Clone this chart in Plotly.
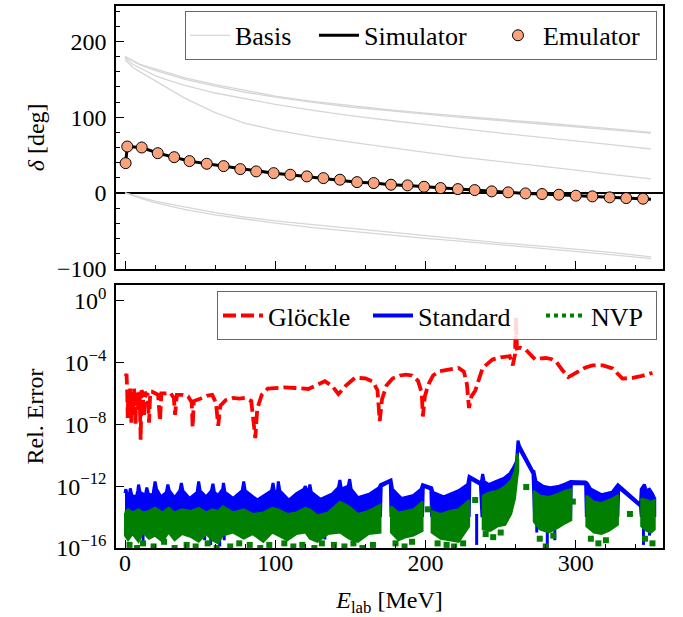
import plotly.graph_objects as go

# ---------------- top panel data ----------------
basis_E = [0, 5, 10, 20, 30, 40, 60, 80, 100, 125, 150, 175, 200, 225, 250, 275, 300, 325, 350]
basis_a1 = [180, 175, 170, 164, 158, 152, 143, 135, 128, 121, 115, 110, 105.5, 101, 97, 93, 89, 84.5, 80]
basis_a2 = [180, 174, 169, 162, 156, 150, 141, 133, 126.5, 119.5, 113.5, 108.5, 104, 99.5, 95.5, 91.5, 87.5, 83.5, 79]
basis_b = [179, 170, 165, 155, 148, 142, 132, 124, 117, 109, 102, 96, 90, 84.5, 79, 74, 69, 63.5, 58]
basis_c = [176, 166, 160, 148, 136, 125, 106, 92, 83, 74.5, 67, 60, 53.5, 47, 41, 35.5, 30, 24, 18.5]
basis_d = [0, -3, -6, -11, -15, -19, -26, -32, -37, -42, -47, -52, -57, -61.5, -66, -70, -74.5, -79, -84.5]
basis_e = [0, -4, -7, -13, -18, -22, -29, -35, -40, -46, -51, -55.5, -60, -64, -68.5, -72.5, -77, -82, -87]

emu_E = [0.4, 1.5, 11.1, 21.8, 32.7, 42.9, 54.4, 65.6, 76.7, 87.3, 98.9, 110, 121, 132, 143,
         154.4, 165.5, 177, 188, 199, 210, 221.5, 232.7, 244, 255, 266.5, 277.5, 288.7, 300,
         311, 322.5, 333.5, 344.7]
emu_d = [39.3, 61.3, 60, 52.5, 47.2, 42, 38.5, 35.4, 31.4, 28.4, 26.1, 24, 21.8, 19.5, 17.4,
         14.2, 13, 10.8, 9.9, 8.1, 6.4, 5, 3.7, 2, 0.7, -0.7, -1.5, -2.4, -3.7,
         -4.6, -5.9, -6.9, -7.7]

sim_E = [0.4, 1.5, 11.1, 21.8, 32.7, 42.9, 54.4, 65.6, 76.7, 87.3, 98.9, 110, 121, 132, 143,
         154.4, 165.5, 177, 188, 199, 210, 221.5, 232.7, 244, 255, 266.5, 277.5, 288.7, 300,
         311, 322.5, 333.5, 344.7, 350]
sim_d = [39.3, 61.3, 60, 52.5, 47.2, 42, 38.5, 35.4, 31.4, 28.4, 26.1, 24, 21.8, 19.5, 17.4,
         14.2, 13, 10.8, 9.9, 8.1, 6.4, 5, 3.7, 2, 0.7, -0.7, -1.5, -2.4, -3.7,
         -4.6, -5.9, -6.9, -7.7, -8.3]

# ---------------- bottom panel data (log10 of relative error) ----------------
gl_E = [0.5, 1.0, 1.4, 1.8, 2.2, 2.6, 3.0, 3.4, 3.8, 4.2, 4.6, 5.0, 5.5, 6.0, 6.5, 7.0, 7.5, 8.0,
        8.6, 9.2, 9.8, 10.4, 11.0, 11.8, 12.6, 13.2, 14.2, 15.0, 16.0, 16.8, 18.0, 20.0, 22.0,
        23.3, 24.2, 27.0, 30.0, 32.5, 33.3, 34.5, 38.0, 42.0, 44.4, 45.0, 45.8, 50.0, 55.0, 58.0,
        60.5, 62.0, 63.5, 67.0, 72.0, 76.0, 80.0, 84.0, 86.7, 88.0, 91.0, 95.0, 100.0, 106.0,
        113.0, 122.0, 128.0, 133.0, 138.0, 142.0, 147.0, 153.0, 160.0, 165.0, 168.0, 169.5,
        171.0, 174.0, 178.0, 183.0, 187.0, 191.0, 195.0, 197.5, 198.2, 199.5, 202.0, 205.0,
        209.0, 215.5, 222.0, 225.5, 227.5, 228.9, 230.5, 233.0, 236.0, 238.0, 244.5, 250.0,
        256.0, 258.0, 259.5, 260.2, 260.8, 263.0, 266.7, 270.0, 273.0, 277.0, 280.0, 284.0,
        286.7, 291.0, 295.0, 298.0, 302.0, 306.0, 311.0, 318.0, 324.5, 328.0, 331.0, 337.8,
        344.0, 351.0]
gl_log = [-4.9, -4.75, -5.7, -7.6, -5.8, -6.1, -7.2, -5.7, -6.0, -7.9, -5.9, -6.2, -7.4, -5.7,
          -6.4, -8.0, -5.8, -6.1, -7.1, -5.9, -6.3, -9.0, -5.8, -6.0, -7.5, -5.9, -6.1, -6.0,
          -7.9, -5.9, -5.9, -6.0, -6.1, -7.8, -6.0, -6.0, -5.95, -6.3, -7.4, -6.1, -6.1, -6.2,
          -6.6, -8.2, -6.5, -6.35, -6.15, -6.1, -6.6, -8.1, -6.8, -6.45, -6.3, -6.35, -6.3,
          -6.5, -8.9, -7.0, -6.1, -5.7, -5.65, -5.62, -5.66, -5.72, -5.45, -5.22, -5.55, -6.05,
          -5.5, -5.0, -5.03, -5.25, -5.8, -7.8, -6.4, -5.5, -5.05, -4.85, -4.79, -4.85, -5.2,
          -6.0, -7.5, -6.2, -5.4, -4.85, -4.58, -4.47, -4.36, -4.6, -5.4, -6.95, -6.2, -5.85,
          -4.9, -4.36, -3.82, -3.68, -3.6, -4.2, -3.5, -1.1, -3.1, -3.05, -3.18, -3.55, -3.82,
          -3.75, -3.72, -3.8, -3.93, -4.5, -4.96, -4.8, -4.58, -4.35, -4.2, -4.2, -4.4, -4.75,
          -5.05, -5.0, -4.88, -4.68]

std_hi_E = [0.0, 0.6, 1.5, 3.0, 3.5, 4.5, 7.5, 8.5, 9.0, 10.0, 13.5, 14.5, 15.5, 18.5, 19.5,
            20.0, 21.0, 24.0, 27.5, 28.5, 29.5, 33.0, 36.5, 37.5, 38.5, 43.0, 48.0, 49.0, 50.0,
            54.0, 57.5, 58.5, 59.5, 62.0, 65.0, 65.5, 66.5, 72.0, 78.0, 79.0, 80.0, 88.0, 97.5,
            98.5, 99.5, 101.5, 102.0, 103.0, 109.0, 114.0, 119.0, 120.0, 121.0, 122.5, 123.0,
            124.0, 130.0, 138.0, 142.0, 143.0, 144.0, 148.5, 149.5, 150.5, 155.0, 163.0, 169.0,
            170.0, 177.0, 178.0, 184.0, 192.0, 197.0, 198.0, 204.0, 205.0, 212.0, 222.0, 228.0,
            229.0, 237.0, 238.0, 239.0, 242.0, 247.0, 252.0, 256.0, 258.5, 260.5, 261.5, 262.5,
            271.5, 272.0, 273.5, 278.0, 283.0, 289.0, 293.0, 296.5, 306.5, 307.5, 310.0, 317.0,
            324.0, 328.0, 343.0, 343.5, 345.6, 347.0, 349.0, 351.0, 352.5]
std_hi = [-12.45, -12.2, -12.6, -12.5, -12.15, -12.6, -12.7, -12.3, -11.9, -12.4, -12.6, -12.1,
          -12.5, -12.6, -12.0, -11.7, -12.2, -12.7, -12.4, -11.9, -12.3, -12.75, -12.3, -11.8,
          -12.3, -12.8, -12.4, -11.7, -12.3, -12.7, -12.3, -11.85, -12.4, -12.6, -12.2, -11.8,
          -12.4, -12.8, -12.3, -11.7, -12.3, -12.9, -12.3, -11.8, -12.4, -12.3, -11.7, -12.3,
          -12.9, -12.5, -12.2, -12.0, -12.3, -12.2, -11.9, -12.4, -12.85, -12.5, -12.1, -11.6,
          -12.2, -12.0, -11.55, -12.2, -12.75, -12.5, -12.1, -11.9, -11.6, -12.2, -12.8, -12.6,
          -12.2, -11.9, -12.1, -12.4, -12.7, -12.3, -11.9, -11.37, -11.8, -11.22, -11.7, -11.9,
          -11.7, -11.5, -11.2, -10.8, -10.4, -9.06, -9.4, -11.05, -11.0, -11.7, -12.0, -12.1,
          -12.0, -11.85, -11.7, -11.74, -11.8, -12.2, -12.55, -12.4, -11.9, -13.2, -12.2, -11.9,
          -12.3, -12.2, -12.5, -12.8]
std_lo_E = [0.0, 170.0, 170.5, 176.5, 177.0, 198.0, 198.5, 203.5, 204.0, 229.0, 229.5, 236.5,
            237.5, 255.0, 258.0, 260.5, 261.5, 262.5, 271.5, 272.5, 296.5, 297.0, 306.5, 307.0,
            328.0, 328.5, 343.0, 343.5, 352.5]
std_lo = [-13.9, -13.9, -12.0, -11.7, -13.9, -13.9, -12.0, -12.2, -13.9, -13.9, -11.5, -11.9,
          -13.9, -13.5, -12.5, -11.0, -9.5, -9.6, -11.2, -13.9, -13.9, -11.85, -11.85, -13.9,
          -13.9, -12.1, -13.3, -13.9, -13.9]
std_spike_E = [12, 53, 57, 63, 66, 109, 133, 184, 222, 234, 274, 281, 286, 345, 349]
std_spike_lo = [-15.6, -15.5, -15.8, -15.9, -15.5, -15.4, -15.45, -15.2, -15.6, -15.8, -15.0,
                -16.1, -15.5, -15.8, -15.2]

nvp_E = [0, 2, 5, 9, 12, 16, 20, 25, 29, 33, 38, 44, 49, 54, 58, 62, 65, 72, 79, 85, 92, 98,
         102, 108, 114, 120, 123, 128, 135, 143, 149, 155, 162, 170, None,
         177, 182, 187, 192, 198, None,
         204, 210, 216, 222, 229, None,
         238, 243, 248, 253, 257, 259.5, 261, 261.7, None,
         272, 276, 282, 288, 293, 297, None,
         307, 312, 317, 322, 328, None,
         343.5, 347, 350, 352.5]
nvp_hi = [-13.7, -13.5, -13.7, -13.5, -13.7, -13.6, -13.4, -13.7, -13.4, -13.7, -13.5, -13.6,
          -13.4, -13.7, -13.5, -13.6, -13.3, -13.7, -13.5, -13.8, -13.7, -13.4, -13.5, -13.8,
          -13.7, -13.4, -13.5, -13.9, -13.7, -13.0, -13.3, -13.8, -13.6, -13.2, None,
          -13.3, -13.7, -13.6, -13.5, -13.0, None,
          -13.6, -13.8, -13.6, -13.5, -12.9, None,
          -12.6, -12.4, -12.3, -12.0, -11.6, -11.0, -9.9, -10.3, None,
          -12.3, -12.6, -12.7, -12.5, -12.3, -12.2, None,
          -12.6, -13.0, -13.1, -12.9, -12.6, None,
          -12.8, -12.9, -13.0, -12.9]
nvp_lo = [-15.2, -15.5, -15.1, -15.6, -15.0, -15.4, -15.2, -15.6, -15.0, -15.5, -15.1, -15.3,
          -15.6, -15.1, -15.5, -15.7, -15.2, -15.0, -15.4, -15.1, -15.6, -15.0, -15.2, -15.5,
          -15.1, -15.0, -15.4, -15.6, -15.1, -15.0, -15.4, -15.6, -15.1, -15.0, None,
          -15.0, -15.5, -15.3, -15.2, -14.9, None,
          -15.0, -15.4, -15.5, -15.6, -14.6, None,
          -14.8, -14.9, -14.6, -14.5, -13.8, -12.8, -11.5, -11.0, None,
          -14.3, -14.8, -15.0, -14.7, -14.4, -14.2, None,
          -14.6, -15.0, -15.1, -14.9, -14.5, None,
          -14.6, -14.9, -15.0, -14.8]
nvp_pts_E = [233, 201.5, 267, 298, 336, 3, 8, 12, 19, 26, 33, 41, 47, 55, 61, 70, 76, 83, 90, 96,
             106, 112, 118, 126, 131, 139, 146, 152, 158, 165, 180, 186, 191, 208, 214, 219,
             225, 240, 245, 250, 276, 280, 285, 310, 315, 320, 346, 351]
nvp_pts = [-12.9, -13.5, -12.06, -13.0, -13.8, -15.8, -16.0, -15.7, -15.9, -15.6, -16.0, -15.8,
           -15.9, -15.7, -16.0, -15.9, -15.7, -15.8, -16.0, -15.8, -15.7, -15.9, -15.8, -16.0,
           -15.7, -15.8, -15.9, -15.7, -16.0, -15.8, -15.7, -15.9, -15.6, -15.7, -15.8, -15.9,
           -15.7, -15.1, -15.3, -15.0, -15.4, -15.9, -15.2, -15.4, -15.7, -15.5, -15.4, -15.7]


def p10(v):
    return None if v is None else 10 ** v


BLUE = "#0000ff"
GREEN = "#007f00"
RED = "#ff0000"
FONT = "Liberation Serif"

fig = go.Figure()

# ---- top panel ----
for i, arr in enumerate([basis_a1, basis_a2, basis_b, basis_c, basis_d, basis_e]):
    fig.add_trace(go.Scatter(x=basis_E, y=arr, mode="lines", line=dict(color="#d6d6d6", width=1.3),
                             name="Basis", legendgroup="basis", showlegend=(i == 0),
                             legendwidth=74, legend="legend", xaxis="x", yaxis="y"))
fig.add_trace(go.Scatter(x=sim_E, y=sim_d, mode="lines", line=dict(color="black", width=3),
                         name="Simulator", legendwidth=124, legend="legend", xaxis="x", yaxis="y"))
fig.add_trace(go.Scatter(x=emu_E, y=emu_d, mode="markers",
                         marker=dict(color="#f9a27c", size=11, line=dict(color="black", width=1)),
                         name="Emulator", legendwidth=108, legend="legend", xaxis="x", yaxis="y"))

# ---- bottom panel ----
fig.add_trace(go.Scatter(x=gl_E, y=[p10(v) for v in gl_log], mode="lines",
                         line=dict(color=RED, width=3.8, dash="13px,5px"),
                         name="Glöckle", legendwidth=95, legend="legend2", xaxis="x2", yaxis="y2"))

# Standard: band polygon
poly_x = std_hi_E + std_lo_E[::-1]
poly_y = [p10(v) for v in std_hi + std_lo[::-1]]
fig.add_trace(go.Scatter(x=poly_x, y=poly_y, mode="lines", fill="toself", fillcolor=BLUE,
                         line=dict(color=BLUE, width=3, simplify=False), showlegend=False,
                         xaxis="x2", yaxis="y2"))
sx, sy = [], []
for e, lo in zip(std_spike_E, std_spike_lo):
    sx += [e, e, None]
    sy += [p10(-13.8), p10(lo), None]
fig.add_trace(go.Scatter(x=sx, y=sy, mode="lines", line=dict(color=BLUE, width=3),
                         showlegend=False, xaxis="x2", yaxis="y2"))
fig.add_trace(go.Scatter(x=[None], y=[None], mode="lines", line=dict(color=BLUE, width=4),
                         name="Standard", legendwidth=118, legend="legend2",
                         xaxis="x2", yaxis="y2"))

# NVP: one closed polygon per segment
seg = []
for e, h, l in list(zip(nvp_E, nvp_hi, nvp_lo)) + [(None, None, None)]:
    if e is None:
        if seg:
            px = [s[0] for s in seg] + [s[0] for s in seg[::-1]] + [seg[0][0]]
            py = [p10(s[1]) for s in seg] + [p10(s[2]) for s in seg[::-1]] + [p10(seg[0][1])]
            fig.add_trace(go.Scatter(x=px, y=py, mode="lines", fill="toself", fillcolor=GREEN,
                                     line=dict(color=GREEN, width=2, simplify=False),
                                     showlegend=False, xaxis="x2", yaxis="y2"))
        seg = []
    else:
        seg.append((e, h, l))
fig.add_trace(go.Scatter(x=nvp_pts_E, y=[p10(v) for v in nvp_pts], mode="markers",
                         marker=dict(color=GREEN, size=6, symbol="square"), showlegend=False,
                         xaxis="x2", yaxis="y2"))
fig.add_trace(go.Scatter(x=[None], y=[None], mode="lines", line=dict(color=GREEN, width=4, dash="dot"),
                         name="NVP", legendwidth=60, legend="legend2", xaxis="x2", yaxis="y2"))

axis_common = dict(showline=True, linecolor="black", linewidth=1.5, mirror=True,
                   ticks="inside", tickcolor="black", ticklen=8, tickwidth=1.3,
                   showgrid=False,
                   tickfont=dict(family=FONT, size=24, color="black"))

fig.update_layout(
    width=683, height=617,
    margin=dict(l=116, r=20, t=4, b=69),
    paper_bgcolor="white", plot_bgcolor="white",
    font=dict(family=FONT, size=24, color="black"),
    xaxis=dict(domain=[0, 1], anchor="y", range=[-6, 358], tick0=0, dtick=100,
               showticklabels=False, zeroline=False,
               minor=dict(ticks="inside", ticklen=4, dtick=20, tickcolor="black"),
               **axis_common),
    yaxis=dict(domain=[0.5156, 1], anchor="x", range=[-100, 247],
               tickvals=[-100, 0, 100, 200], ticktext=["−100", "0", "100", "200"],
               ticklabelstandoff=3,
               minor=dict(ticks="inside", ticklen=4, dtick=20, tick0=0, tickcolor="black"),
               title=dict(text="<i>δ</i> [deg]", standoff=5, font=dict(family=FONT, size=24)),
               zeroline=True, zerolinecolor="black", zerolinewidth=2,
               **axis_common),
    xaxis2=dict(domain=[0, 1], anchor="y2", range=[-6, 358],
                tickvals=[0, 100, 200, 300], ticktext=["0", "100", "200", "300"],
                ticklabelstandoff=-8, zeroline=False,
                minor=dict(ticks="inside", ticklen=4, dtick=20, tick0=0, tickcolor="black"),
                title=dict(text="<i>E</i><sub>lab</sub> [MeV]", standoff=17,
                           font=dict(family=FONT, size=24)),
                **axis_common),
    yaxis2=dict(domain=[0, 0.4853], anchor="x2", type="log", range=[-16, 1],
                tickvals=[1, 1e-4, 1e-8, 1e-12, 1e-16],
                ticktext=["10<sup>0</sup>", "10<sup>−4</sup>", "10<sup>−8</sup>",
                          "10<sup>−12</sup>", "10<sup>−16</sup>"],
                ticklabelstandoff=3, zeroline=False,
                title=dict(text="Rel. Error", standoff=6, font=dict(family=FONT, size=24)),
                **axis_common),
    legend=dict(x=0.989, xanchor="right", y=0.991, yanchor="top", orientation="h",
                bgcolor="rgba(255,255,255,0.85)", bordercolor="#666666", borderwidth=1,
                font=dict(family=FONT, size=26), itemwidth=40),
    legend2=dict(x=0.989, xanchor="right", y=0.474, yanchor="top", orientation="h",
                 bgcolor="rgba(255,255,255,0.85)", bordercolor="#666666", borderwidth=1,
                 font=dict(family=FONT, size=26), itemwidth=40),
)

fig.write_html("out.html")
